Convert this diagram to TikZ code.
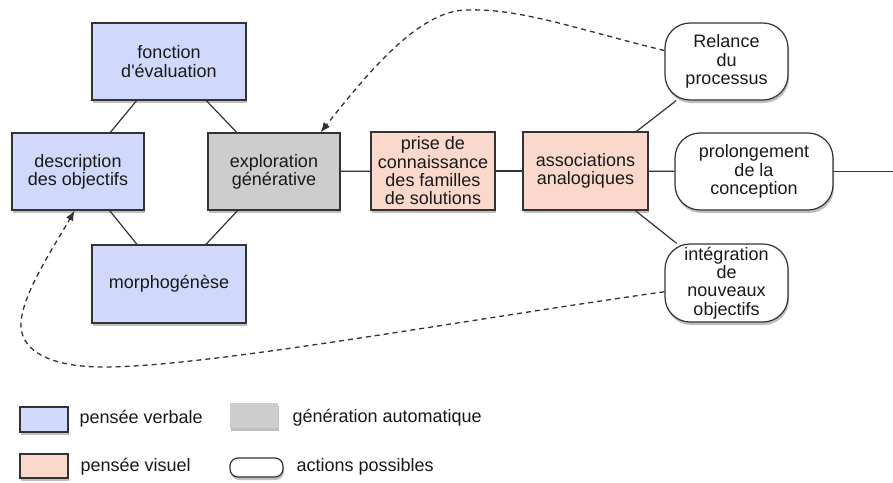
\documentclass[tikz,border=0pt]{standalone}
\usepackage{fontspec}
\setmainfont{Liberation Sans}
\usetikzlibrary{shadows,arrows.meta}
\definecolor{verbal}{HTML}{D0D9FB}
\definecolor{visuel}{HTML}{FAD9CC}
\definecolor{auto}{HTML}{CDCDCD}
\definecolor{bord}{HTML}{333333}
\tikzset{
  base/.style={draw=bord, line width=1.2pt, align=center, inner sep=0pt,
    font=\fontsize{18}{18.3}\selectfont, text=black!90,
    drop shadow={shadow xshift=1pt, shadow yshift=-3pt, opacity=0.25, fill=black}},
  verbbox/.style={base, fill=verbal},
  visbox/.style={base, fill=visuel},
  autobox/.style={base, fill=auto},
  actbox/.style={base, fill=white, rounded corners=25pt},
  link/.style={draw=bord, line width=1.2pt},
  retour/.style={draw=black!80, line width=1.3pt, dash pattern=on 5pt off 4pt,
    -{Latex[length=10pt,width=8pt]}},
  legtext/.style={anchor=west, font=\fontsize{18}{18}\selectfont, text=black!90}
}
\begin{document}
\begin{tikzpicture}[x=1pt,y=-1pt]
\useasboundingbox (0,0) rectangle (893,482);
% main nodes
\node[verbbox, minimum width=154pt, minimum height=77pt] (fonc) at (169,61.5) {fonction\\d\textquotesingle évaluation};
\node[verbbox, minimum width=132pt, minimum height=77pt] (desc) at (78,171.5) {description\\des objectifs};
\node[autobox, minimum width=132pt, minimum height=77pt] (expl) at (274,171.5) {exploration\\générative};
\node[verbbox, minimum width=154pt, minimum height=78pt] (morph) at (169,284) {morphogénèse};
\node[visbox, minimum width=124pt, minimum height=78pt] (prise) at (433,171) {prise de\\connaissance\\des familles\\de solutions};
\node[visbox, minimum width=125pt, minimum height=78pt] (assoc) at (585.5,171) {associations\\analogiques};
\node[actbox, minimum width=123pt, minimum height=77pt] (rel) at (726.5,61.5) {Relance\\du\\processus};
\node[actbox, minimum width=158pt, minimum height=77pt] (prol) at (754,171.5) {prolongement\\de la\\conception};
\node[actbox, minimum width=123pt, minimum height=78pt] (integ) at (726.5,283) {intégration\\de\\nouveaux\\objectifs};
\coordinate (fin) at (893,171.5);
% connectors
\draw[link] (fonc) -- (desc);
\draw[link] (fonc) -- (expl);
\draw[link] (desc) -- (morph);
\draw[link] (expl) -- (morph);
\draw[link] (expl) -- (prise);
\draw[link] (prise) -- (assoc);
\draw[link] (assoc) -- (prol);
\draw[link] (assoc) -- (rel);
\draw[link] (assoc) -- (integ);
\draw[link] (prol) -- (fin);
% dashed feedback
\draw[retour] (rel.170) .. controls (580,30) and (520,8) .. (467,10)
  .. controls (420,10) and (370,70) .. (expl.40);
\draw[retour] (integ.188) .. controls (450,322) and (200,368) .. (100,367)
  .. controls (40,366) and (15,345) .. (22,315)
  .. controls (28,285) and (55,245) .. (desc.265);
% legend
\node[verbbox, minimum width=48pt, minimum height=25pt] (lv) at (44,419.5) {};
\node[legtext] (tv) at (76,419) {pensée verbale};
\node[base, draw=none, fill=auto, minimum width=48pt, minimum height=25pt] (la) at (254,415.5) {};
\node[legtext] (ta) at (289,418) {génération automatique};
\node[visbox, minimum width=48pt, minimum height=24pt] (lp) at (44,466) {};
\node[legtext] (tp) at (77,467) {pensée visuel};
\node[actbox, rounded corners=8pt, minimum width=53pt, minimum height=19pt] (lw) at (256.5,467.5) {};
\node[legtext] (tw) at (293,467) {actions possibles};
\end{tikzpicture}
\end{document}
